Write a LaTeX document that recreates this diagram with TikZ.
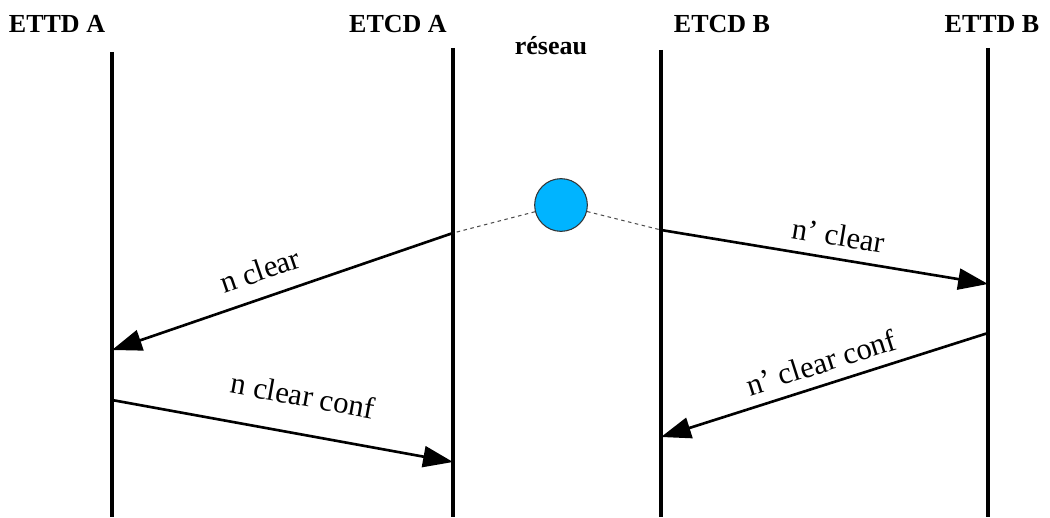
\documentclass[tikz,border=0pt]{standalone}
\usepackage{fontspec}
\setmainfont{Liberation Serif}
\usetikzlibrary{arrows.meta}

\definecolor{netblue}{RGB}{0,180,255}
\tikzset{
  life/.style={line width=2pt},
  msg/.style={line width=1.5pt,-{Triangle[length=17pt,width=12pt]}},
  msglabel/.style={sloped,font=\fontsize{17.5}{20}\selectfont},
  head/.style={anchor=base,font=\fontsize{14.8}{17}\selectfont\bfseries},
  link/.style={line width=0.6pt,black!70,dash pattern=on 2pt off 2pt}
}

\begin{document}
\begin{tikzpicture}[x=0.02cm,y=-0.02cm]
  \useasboundingbox (0,0) rectangle (1050,517);
  % entites
  \node[head] (ettdA) at (57,33) {ETTD A};
  \node[head] (etcdA) at (398,33) {ETCD A};
  \node[head] (etcdB) at (722,33) {ETCD B};
  \node[head] (ettdB) at (992,33) {ETTD B};
  \node[head] (res) at (551,55) {réseau};
  % lignes de vie
  \draw[life] (112,52) -- (112,517);
  \draw[life] (453,48) -- (453,517);
  \draw[life] (661,50) -- (661,517);
  \draw[life] (988,48) -- (988,517);
  % reseau
  \node[circle,draw=black!80,line width=0.6pt,fill=netblue,inner sep=0pt,minimum size=30pt] (net) at (561,205) {};
  \coordinate (a1) at (453,233);
  \coordinate (a2) at (112,350);
  \coordinate (a3) at (112,400);
  \coordinate (a4) at (453,462);
  \coordinate (b1) at (661,230);
  \coordinate (b2) at (988,284);
  \coordinate (b3) at (988,333);
  \coordinate (b4) at (661,437);
  \draw[link] (net) -- (a1);
  \draw[link] (net) -- (b1);
  % messages
  \draw[msg] (a1) -- node[msglabel,above=5.4pt,pos=0.54] {n clear} (a2);
  \draw[msg] (a3) -- node[msglabel,above=11.7pt,pos=0.54] {n clear conf} (a4);
  \draw[msg] (b1) -- node[msglabel,above=3.2pt,pos=0.53] {n’ clear} (b2);
  \draw[msg] (b3) -- node[msglabel,above=2.6pt,pos=0.49] {n’ clear conf} (b4);
\end{tikzpicture}
\end{document}
